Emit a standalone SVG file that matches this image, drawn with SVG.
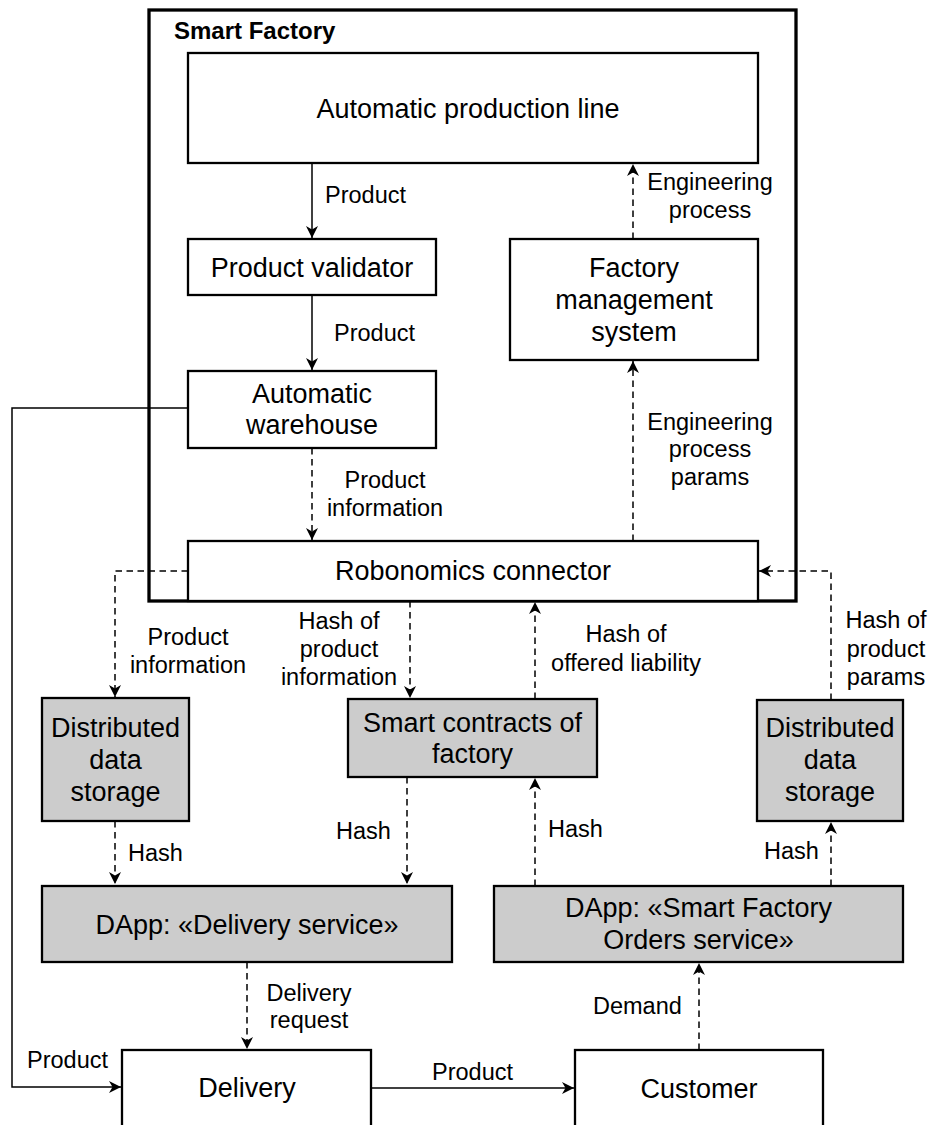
<svg xmlns="http://www.w3.org/2000/svg" width="930" height="1125" viewBox="0 0 930 1125">
<style>
.frame{fill:none;stroke:#000;stroke-width:3.3}
.node{fill:#fff;stroke:#000;stroke-width:2.3}
.gray{fill:#ccc;stroke:#000;stroke-width:2.3}
.nt{font-family:"Liberation Sans",Arial,sans-serif;font-size:27px;fill:#000;text-anchor:middle}
.lt{font-family:"Liberation Sans",Arial,sans-serif;font-size:23.5px;fill:#000}
.c{text-anchor:middle}
.solid{fill:none;stroke:#000;stroke-width:1.5}
.dash{fill:none;stroke:#000;stroke-width:1.5;stroke-dasharray:6.5 4.5}
.title{font-family:"Liberation Sans",Arial,sans-serif;font-size:24px;font-weight:bold;fill:#000}
</style>
<defs>
<marker id="arr" markerUnits="userSpaceOnUse" markerWidth="14" markerHeight="14" refX="12" refY="6.5" orient="auto">
<path d="M0,0.5 L12,6.5 L0,12.5 L3.5,6.5 Z" fill="#000"/>
</marker>
</defs>
<rect width="930" height="1125" fill="#fff"/>
<g id="smart-factory">
<rect class="frame" x="149" y="10" width="647" height="591"/>
<text class="title" x="174" y="39">Smart Factory</text>
</g>
<g id="connectors">
<path class="solid" d="M312,163 V238" marker-end="url(#arr)"/>
<path class="solid" d="M312,295 V370" marker-end="url(#arr)"/>
<path class="dash" d="M633,239 V164" marker-end="url(#arr)"/>
<path class="dash" d="M633,541 V361" marker-end="url(#arr)"/>
<path class="dash" d="M312,448 V540" marker-end="url(#arr)"/>
<path class="dash" d="M188,571 H115 V697" marker-end="url(#arr)"/>
<path class="solid" d="M188,408 H12 V1087 H121" marker-end="url(#arr)"/>
<path class="dash" d="M410,601 V698" marker-end="url(#arr)"/>
<path class="dash" d="M535,699 V602" marker-end="url(#arr)"/>
<path class="dash" d="M831,700 V571 H759" marker-end="url(#arr)"/>
<path class="dash" d="M115,821 V884" marker-end="url(#arr)"/>
<path class="dash" d="M407,777 V884" marker-end="url(#arr)"/>
<path class="dash" d="M535,886 V778" marker-end="url(#arr)"/>
<path class="dash" d="M831,886 V822" marker-end="url(#arr)"/>
<path class="dash" d="M247,962 V1049" marker-end="url(#arr)"/>
<path class="dash" d="M699,1050 V963" marker-end="url(#arr)"/>
<path class="solid" d="M371,1088 H574" marker-end="url(#arr)"/>
<text class="lt" x="325" y="203">Product</text>
<text class="lt" x="334" y="341">Product</text>
<text class="lt c" x="710" y="190">Engineering</text>
<text class="lt c" x="710" y="218">process</text>
<text class="lt c" x="710" y="430">Engineering</text>
<text class="lt c" x="710" y="457">process</text>
<text class="lt c" x="710" y="485">params</text>
<text class="lt c" x="385" y="488">Product</text>
<text class="lt c" x="385" y="516">information</text>
<text class="lt c" x="188" y="645">Product</text>
<text class="lt c" x="188" y="673">information</text>
<text class="lt c" x="339" y="629">Hash of</text>
<text class="lt c" x="339" y="657">product</text>
<text class="lt c" x="339" y="685">information</text>
<text class="lt c" x="626" y="642">Hash of</text>
<text class="lt c" x="626" y="671">offered liability</text>
<text class="lt c" x="886" y="628">Hash of</text>
<text class="lt c" x="886" y="657">product</text>
<text class="lt c" x="886" y="685">params</text>
<text class="lt" x="128" y="861">Hash</text>
<text class="lt" x="336" y="839">Hash</text>
<text class="lt" x="548" y="837">Hash</text>
<text class="lt" x="764" y="859">Hash</text>
<text class="lt c" x="309" y="1001">Delivery</text>
<text class="lt c" x="309" y="1028">request</text>
<text class="lt" x="593" y="1014">Demand</text>
<text class="lt" x="27" y="1068">Product</text>
<text class="lt" x="432" y="1080">Product</text>
</g>
<g id="production-line">
<rect class="node" x="188" y="53" width="570" height="110"/>
<text class="nt" x="468" y="118">Automatic production line</text>
</g>
<g id="product-validator">
<rect class="node" x="188" y="239" width="248" height="56"/>
<text class="nt" x="312" y="277">Product validator</text>
</g>
<g id="warehouse">
<rect class="node" x="188" y="371" width="248" height="77"/>
<text class="nt" x="312" y="403">Automatic</text>
<text class="nt" x="312" y="434">warehouse</text>
</g>
<g id="fms">
<rect class="node" x="510" y="239" width="248" height="121"/>
<text class="nt" x="634" y="277">Factory</text>
<text class="nt" x="634" y="309">management</text>
<text class="nt" x="634" y="341">system</text>
</g>
<g id="robonomics">
<rect class="node" x="188" y="541" width="570" height="60"/>
<text class="nt" x="473" y="580">Robonomics connector</text>
</g>
<g id="dds-left">
<rect class="gray" x="42" y="698" width="147" height="123"/>
<text class="nt" x="115.5" y="737">Distributed</text>
<text class="nt" x="115.5" y="769">data</text>
<text class="nt" x="115.5" y="801">storage</text>
</g>
<g id="smart-contracts">
<rect class="gray" x="348" y="699" width="249" height="78"/>
<text class="nt" x="472.5" y="732">Smart contracts of</text>
<text class="nt" x="472.5" y="763">factory</text>
</g>
<g id="dds-right">
<rect class="gray" x="757" y="700" width="146" height="121"/>
<text class="nt" x="830" y="737">Distributed</text>
<text class="nt" x="830" y="769">data</text>
<text class="nt" x="830" y="801">storage</text>
</g>
<g id="dapp-delivery">
<rect class="gray" x="42" y="886" width="410" height="76"/>
<text class="nt" x="247" y="934">DApp: «Delivery service»</text>
</g>
<g id="dapp-orders">
<rect class="gray" x="494" y="886" width="409" height="76"/>
<text class="nt" x="698.5" y="917">DApp: «Smart Factory</text>
<text class="nt" x="698.5" y="949">Orders service»</text>
</g>
<g id="delivery">
<rect class="node" x="122" y="1050" width="249" height="100"/>
<text class="nt" x="247" y="1097">Delivery</text>
</g>
<g id="customer">
<rect class="node" x="575" y="1050" width="248" height="100"/>
<text class="nt" x="699" y="1098">Customer</text>
</g>
</svg>
